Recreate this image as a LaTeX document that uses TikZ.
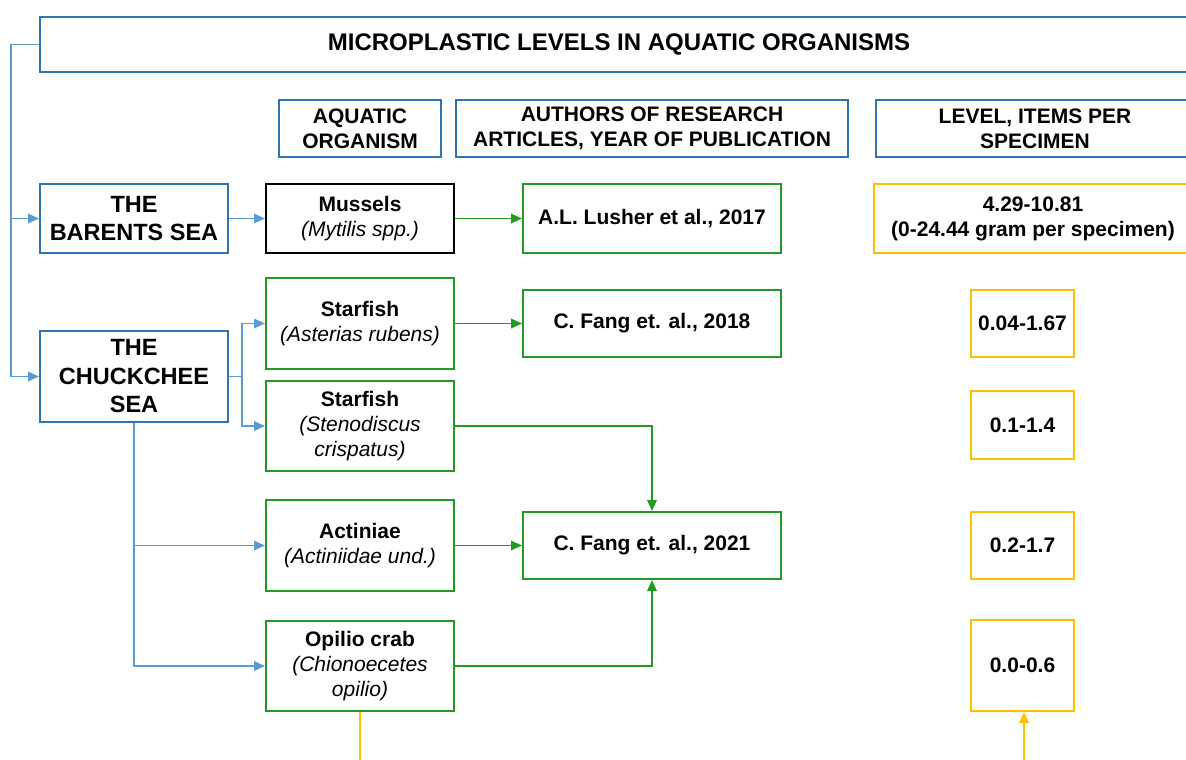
\documentclass[tikz,border=0pt]{standalone}
\usepackage{fontspec}
\setmainfont{Liberation Sans}
\usetikzlibrary{arrows.meta}
\definecolor{boxblue}{RGB}{46,117,182}
\definecolor{lineblue}{RGB}{91,155,213}
\definecolor{boxgreen}{RGB}{34,155,34}
\definecolor{boxyellow}{RGB}{255,192,0}
\begin{document}
\begin{tikzpicture}[x=1pt,y=-1pt,
	box/.style={draw,line width=2pt,align=center,inner sep=0pt,font=\fontsize{21}{25}\selectfont\bfseries},
	bluebox/.style={box,draw=boxblue},
	seabox/.style={bluebox,minimum width=188pt,font=\fontsize{23.5}{28.5}\selectfont\bfseries},
	greenbox/.style={box,draw=boxgreen},
	yellowbox/.style={box,draw=boxyellow},
	blackbox/.style={box,draw=black},
	bline/.style={lineblue,line width=1.8pt},
	gline/.style={boxgreen,line width=1.8pt},
	yline/.style={boxyellow,line width=1.8pt},
	arr/.style={-{Triangle[length=11pt,width=9.5pt]}}]
	\useasboundingbox (0,0) rectangle (1186,760);
	\clip (0,0) rectangle (1186,760);

	\node[bluebox,minimum width=1158pt,minimum height=55pt,font=\fontsize{24}{28}\selectfont\bfseries] (title) at (619,44.5) {MICROPLASTIC LEVELS IN AQUATIC ORGANISMS};

	\node[bluebox,minimum width=162pt,minimum height=57pt] (horg) at (360,128.5) {AQUATIC\\ORGANISM};
	\node[bluebox,minimum width=392pt,minimum height=57pt] (hauth) at (652,128.5) {AUTHORS OF RESEARCH\\ARTICLES, YEAR OF PUBLICATION};
	\node[bluebox,minimum width=318pt,minimum height=57pt] (hlevel) at (1035,128.5) {LEVEL, ITEMS PER\\SPECIMEN};

	\node[seabox,minimum height=69pt] (barents) at (134,218.5) {THE\\BARENTS SEA};
	\node[seabox,minimum height=91pt] (chuk) at (134,376.5) {THE\\CHUCKCHEE\\SEA};

	\node[blackbox,minimum width=188pt,minimum height=69pt] (mussels) at (360,218.5) {Mussels\\{\mdseries\itshape (Mytilis spp.)}};
	\node[greenbox,minimum width=188pt,minimum height=91pt] (star1) at (360,323.5) {Starfish\\{\mdseries\itshape (Asterias rubens)}};
	\node[greenbox,minimum width=188pt,minimum height=90pt] (star2) at (360,426) {Starfish\\{\mdseries\itshape (Stenodiscus}\\{\mdseries\itshape crispatus)}};
	\node[greenbox,minimum width=188pt,minimum height=91pt] (actin) at (360,545.5) {Actiniae\\{\mdseries\itshape (Actiniidae und.)}};
	\node[greenbox,minimum width=188pt,minimum height=90pt] (opilio) at (360,666) {Opilio crab\\{\mdseries\itshape (Chionoecetes}\\{\mdseries\itshape opilio)}};

	\node[greenbox,minimum width=258pt,minimum height=69pt] (lusher) at (652,218.5) {A.L. Lusher et al., 2017};
	\node[greenbox,minimum width=258pt,minimum height=67pt] (fang18) at (652,323.5) {C. Fang et. al., 2018};
	\node[greenbox,minimum width=258pt,minimum height=67pt] (fang21) at (652,545.5) {C. Fang et. al., 2021};

	\node[yellowbox,minimum width=318pt,minimum height=69pt] (lev1) at (1033,218.5) {4.29-10.81\\(0-24.44 gram per specimen)};
	\node[yellowbox,minimum width=103pt,minimum height=67pt] (lev2) at (1022.5,323.5) {0.04-1.67};
	\node[yellowbox,minimum width=103pt,minimum height=68pt] (lev3) at (1022.5,425) {0.1-1.4};
	\node[yellowbox,minimum width=103pt,minimum height=67pt] (lev4) at (1022.5,545.5) {0.2-1.7};
	\node[yellowbox,minimum width=103pt,minimum height=91pt] (lev5) at (1022.5,665.5) {0.0-0.6};

	\coordinate (spine) at (11,0);
	\coordinate (fork) at (242,0);
	\coordinate (ybot1) at (360,770);
	\coordinate (ybot2) at (1024,770);

	\draw[bline,arr] (title.west) -| (spine |- chuk.west) -- (chuk.west);
	\draw[bline,arr] (spine |- barents.west) -- (barents.west);
	\draw[bline,arr] (barents.east) -- (mussels.west);
	\draw[bline,arr] (chuk.east) -- (fork |- chuk.east) |- (star1.west);
	\draw[bline,arr] (fork |- chuk.east) |- (star2.west);
	\draw[bline,arr] (chuk.south) |- (opilio.west);
	\draw[bline,arr] (chuk.south |- actin.west) -- (actin.west);

	\draw[gline,arr] (mussels.east) -- (lusher.west);
	\draw[gline,arr] (star1.east) -- (fang18.west);
	\draw[gline,arr] (star2.east) -| (fang21.north);
	\draw[gline,arr] (actin.east) -- (fang21.west);
	\draw[gline,arr] (opilio.east) -| (fang21.south);

	\draw[yline] (opilio.south) -- (ybot1);
	\draw[yline,arr] (ybot2) -- (ybot2 |- lev5.south);
\end{tikzpicture}
\end{document}
